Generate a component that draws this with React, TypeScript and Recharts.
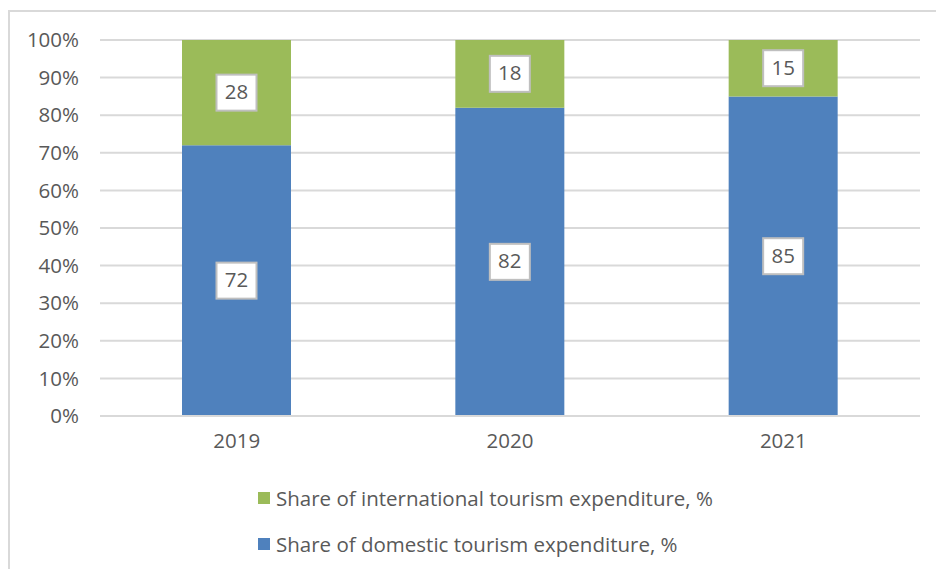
import React from 'react';
import { BarChart, Bar, XAxis, YAxis, CartesianGrid, LabelList } from 'recharts';

const years = ['2019', '2020', '2021'];
const domestic = [72, 82, 85];
const international = [28, 18, 15];
const yTicks = [0, 10, 20, 30, 40, 50, 60, 70, 80, 90, 100];
const seriesNames = ['Share of international tourism expenditure, %', 'Share of domestic tourism expenditure, %'];

const data = years.map((y, i) => ({ year: y, domestic: domestic[i], international: international[i] }));

const FONT = '"Open Sans", sans-serif';
const TEXT = '#595959';
const BLUE = '#4F81BD';
const GREEN = '#9BBB59';

const BoxLabel = (props: any) => {
  const { x, y, width, height, value } = props;
  const cx = x + width / 2;
  const cy = y + height / 2;
  const w = 40;
  const h = 36;
  return (
    <g>
      <rect x={cx - w / 2} y={cy - h / 2} width={w} height={h} fill="#fff" stroke="#BFBFBF" strokeWidth={2} />
      <text x={cx} y={cy + 1} textAnchor="middle" dominantBaseline="middle" fontFamily={FONT} fontSize={20.5} fill={TEXT}>
        {value}
      </text>
    </g>
  );
};

export default function App() {
  return (
    <div style={{ position: 'absolute', left: 0, top: 0, width: 936, height: 569, background: '#fff', overflow: 'hidden' }}>
      <div style={{ position: 'absolute', left: 8, top: 10, width: 940, height: 570, borderTop: '2px solid #D9D9D9', borderLeft: '2px solid #D9D9D9' }} />
      <div style={{ position: 'absolute', left: 0, top: 0 }}>
        <BarChart width={936} height={569} data={data} margin={{ top: 40, right: 16, left: 40, bottom: 123 }} barSize={109}>
          <CartesianGrid vertical={false} stroke="#D9D9D9" strokeWidth={2} />
          <XAxis
            dataKey="year"
            axisLine={{ stroke: '#D9D9D9', strokeWidth: 2 }}
            tickLine={false}
            tickSize={0}
            tickMargin={17}
            tick={{ fontFamily: FONT, fontSize: 20.5, fill: TEXT }}
            height={30}
          />
          <YAxis
            domain={[0, 100]}
            ticks={yTicks}
            tickFormatter={(v: number) => `${v}%`}
            axisLine={false}
            tickLine={false}
            tickSize={0}
            tickMargin={21}
            width={60}
            tick={{ fontFamily: FONT, fontSize: 20.5, fill: TEXT }}
            interval={0}
          />
          <Bar dataKey="domestic" stackId="a" fill={BLUE} isAnimationActive={false}>
            <LabelList dataKey="domestic" content={BoxLabel} />
          </Bar>
          <Bar dataKey="international" stackId="a" fill={GREEN} isAnimationActive={false}>
            <LabelList dataKey="international" content={BoxLabel} />
          </Bar>
        </BarChart>
      </div>
      {[GREEN, BLUE].map((c, i) => (
        <div
          key={i}
          style={{ position: 'absolute', left: 258, top: 487 + i * 46, height: 22, display: 'flex', alignItems: 'center', fontFamily: FONT, fontSize: 20.5, color: TEXT, whiteSpace: 'nowrap' }}
        >
          <span style={{ display: 'inline-block', width: 12, height: 12, background: c, marginRight: 6 }} />
          {seriesNames[i]}
        </div>
      ))}
    </div>
  );
}
